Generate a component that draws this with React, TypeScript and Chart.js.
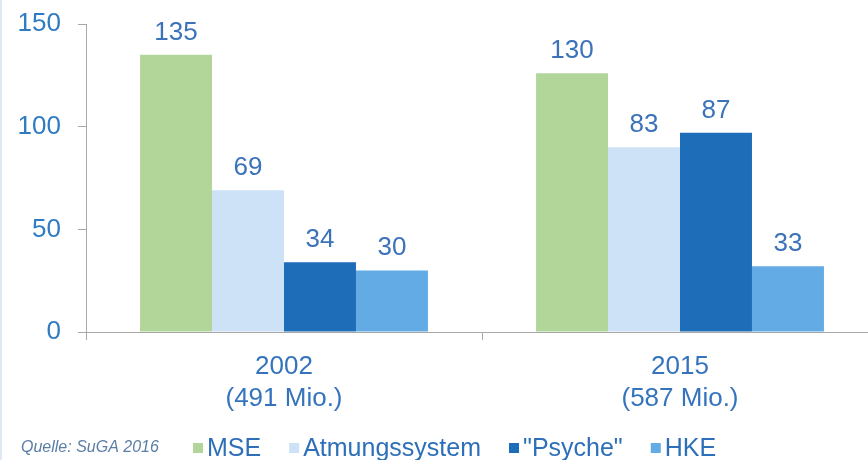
import React, { useEffect, useRef } from "react";
import { Chart, registerables } from "chart.js";

Chart.register(...registerables);

const categories: string[][] = [["2002", "(491 Mio.)"], ["2015", "(587 Mio.)"]];
const seriesNames = ["MSE", "Atmungssystem", "\"Psyche\"", "HKE"];
const mseValues = [135, 126];
const atmungValues = [69, 90];
const psycheValues = [34, 97];
const hkeValues = [30, 32];
const mseLabels = ["135", "130"];
const atmungLabels = ["69", "83"];
const psycheLabels = ["34", "87"];
const hkeLabels = ["30", "33"];
const yTickValues = [0, 50, 100, 150];
const sourceText = "Quelle: SuGA 2016";

const FONT = "'Liberation Sans', Arial, sans-serif";
const COLORS = ["#b2d69a", "#cde2f6", "#1d6db8", "#63abe5"];
const AXIS = "#a8a8a8";

const valueLabelPlugin = {
  id: "valueLabels",
  afterDatasetsDraw(chart: any) {
    const ctx = chart.ctx;
    const all = [mseLabels, atmungLabels, psycheLabels, hkeLabels];
    ctx.save();
    ctx.font = `26px ${FONT}`;
    ctx.fillStyle = "#3b72b9";
    ctx.textAlign = "center";
    ctx.textBaseline = "alphabetic";
    chart.data.datasets.forEach((_: any, di: number) => {
      const meta = chart.getDatasetMeta(di);
      meta.data.forEach((bar: any, i: number) => {
        ctx.fillText(all[di][i], bar.x, bar.y - 15);
      });
    });
    ctx.restore();
  },
};

const legendPlugin = {
  id: "customLegend",
  afterDraw(chart: any) {
    const ctx = chart.ctx;
    const cy = 448;
    ctx.save();
    ctx.textBaseline = "middle";
    ctx.textAlign = "left";
    ctx.font = `italic 16px ${FONT}`;
    ctx.fillStyle = "#5b7ea6";
    ctx.fillText(sourceText, 21, cy);
    ctx.font = `25px ${FONT}`;
    let x = 193;
    chart.data.datasets.forEach((ds: any) => {
      ctx.fillStyle = ds.backgroundColor;
      ctx.fillRect(x, cy - 5, 10, 10);
      x += 14;
      ctx.fillStyle = "#2e6fba";
      ctx.fillText(ds.label, x, cy + 1);
      x += ctx.measureText(ds.label).width + 28;
    });
    ctx.restore();
  },
};

export default function App() {
  const ref = useRef<HTMLCanvasElement>(null);

  useEffect(() => {
    if (!ref.current) return;
    const values = [mseValues, atmungValues, psycheValues, hkeValues];
    const chart = new Chart(ref.current, {
      type: "bar",
      data: {
        labels: categories,
        datasets: seriesNames.map((name, i) => ({
          label: name,
          data: values[i],
          backgroundColor: COLORS[i],
          borderWidth: 0,
          categoryPercentage: 0.727,
          barPercentage: 1.0,
        })),
      },
      options: {
        responsive: false,
        animation: false,
        devicePixelRatio: 1,
        layout: { padding: { top: 24, right: 12, left: 0, bottom: 0 } },
        plugins: {
          legend: { display: false },
          tooltip: { enabled: false },
        },
        scales: {
          x: {
            offset: true,
            grid: {
              drawOnChartArea: false,
              drawTicks: true,
              tickLength: 8,
              color: AXIS,
              lineWidth: 1,
            },
            border: { color: AXIS, width: 1 },
            ticks: {
              color: "#3574bd",
              font: { family: FONT, size: 26, lineHeight: 1.22 },
              padding: 11,
              maxRotation: 0,
              autoSkip: false,
            },
            afterFit(scale: any) {
              scale.height = 128;
              scale.paddingLeft = 0;
              scale.paddingRight = 0;
            },
          },
          y: {
            min: 0,
            max: 150,
            afterBuildTicks(scale: any) {
              scale.ticks = yTickValues.map((v) => ({ value: v }));
            },
            grid: {
              drawOnChartArea: false,
              drawTicks: true,
              tickLength: 8,
              color: AXIS,
              lineWidth: 1,
            },
            border: { color: AXIS, width: 1 },
            ticks: {
              color: "#2e7bc4",
              font: { family: FONT, size: 26 },
              padding: 17,
            },
            afterFit(scale: any) {
              scale.width = 86;
              scale.paddingTop = 0;
              scale.paddingBottom = 0;
            },
          },
        },
      },
      plugins: [valueLabelPlugin, legendPlugin],
    });
    return () => chart.destroy();
  }, []);

  return (
    <div
      style={{
        position: "fixed",
        left: 0,
        top: 0,
        width: 868,
        height: 460,
        overflow: "hidden",
        background: "#ffffff",
      }}
    >
      <canvas ref={ref} width={890} height={460} style={{ display: "block" }} />
      <div
        style={{
          position: "absolute",
          left: 0,
          top: 0,
          width: 2,
          height: 460,
          background: "#dde9f5",
        }}
      />
    </div>
  );
}
